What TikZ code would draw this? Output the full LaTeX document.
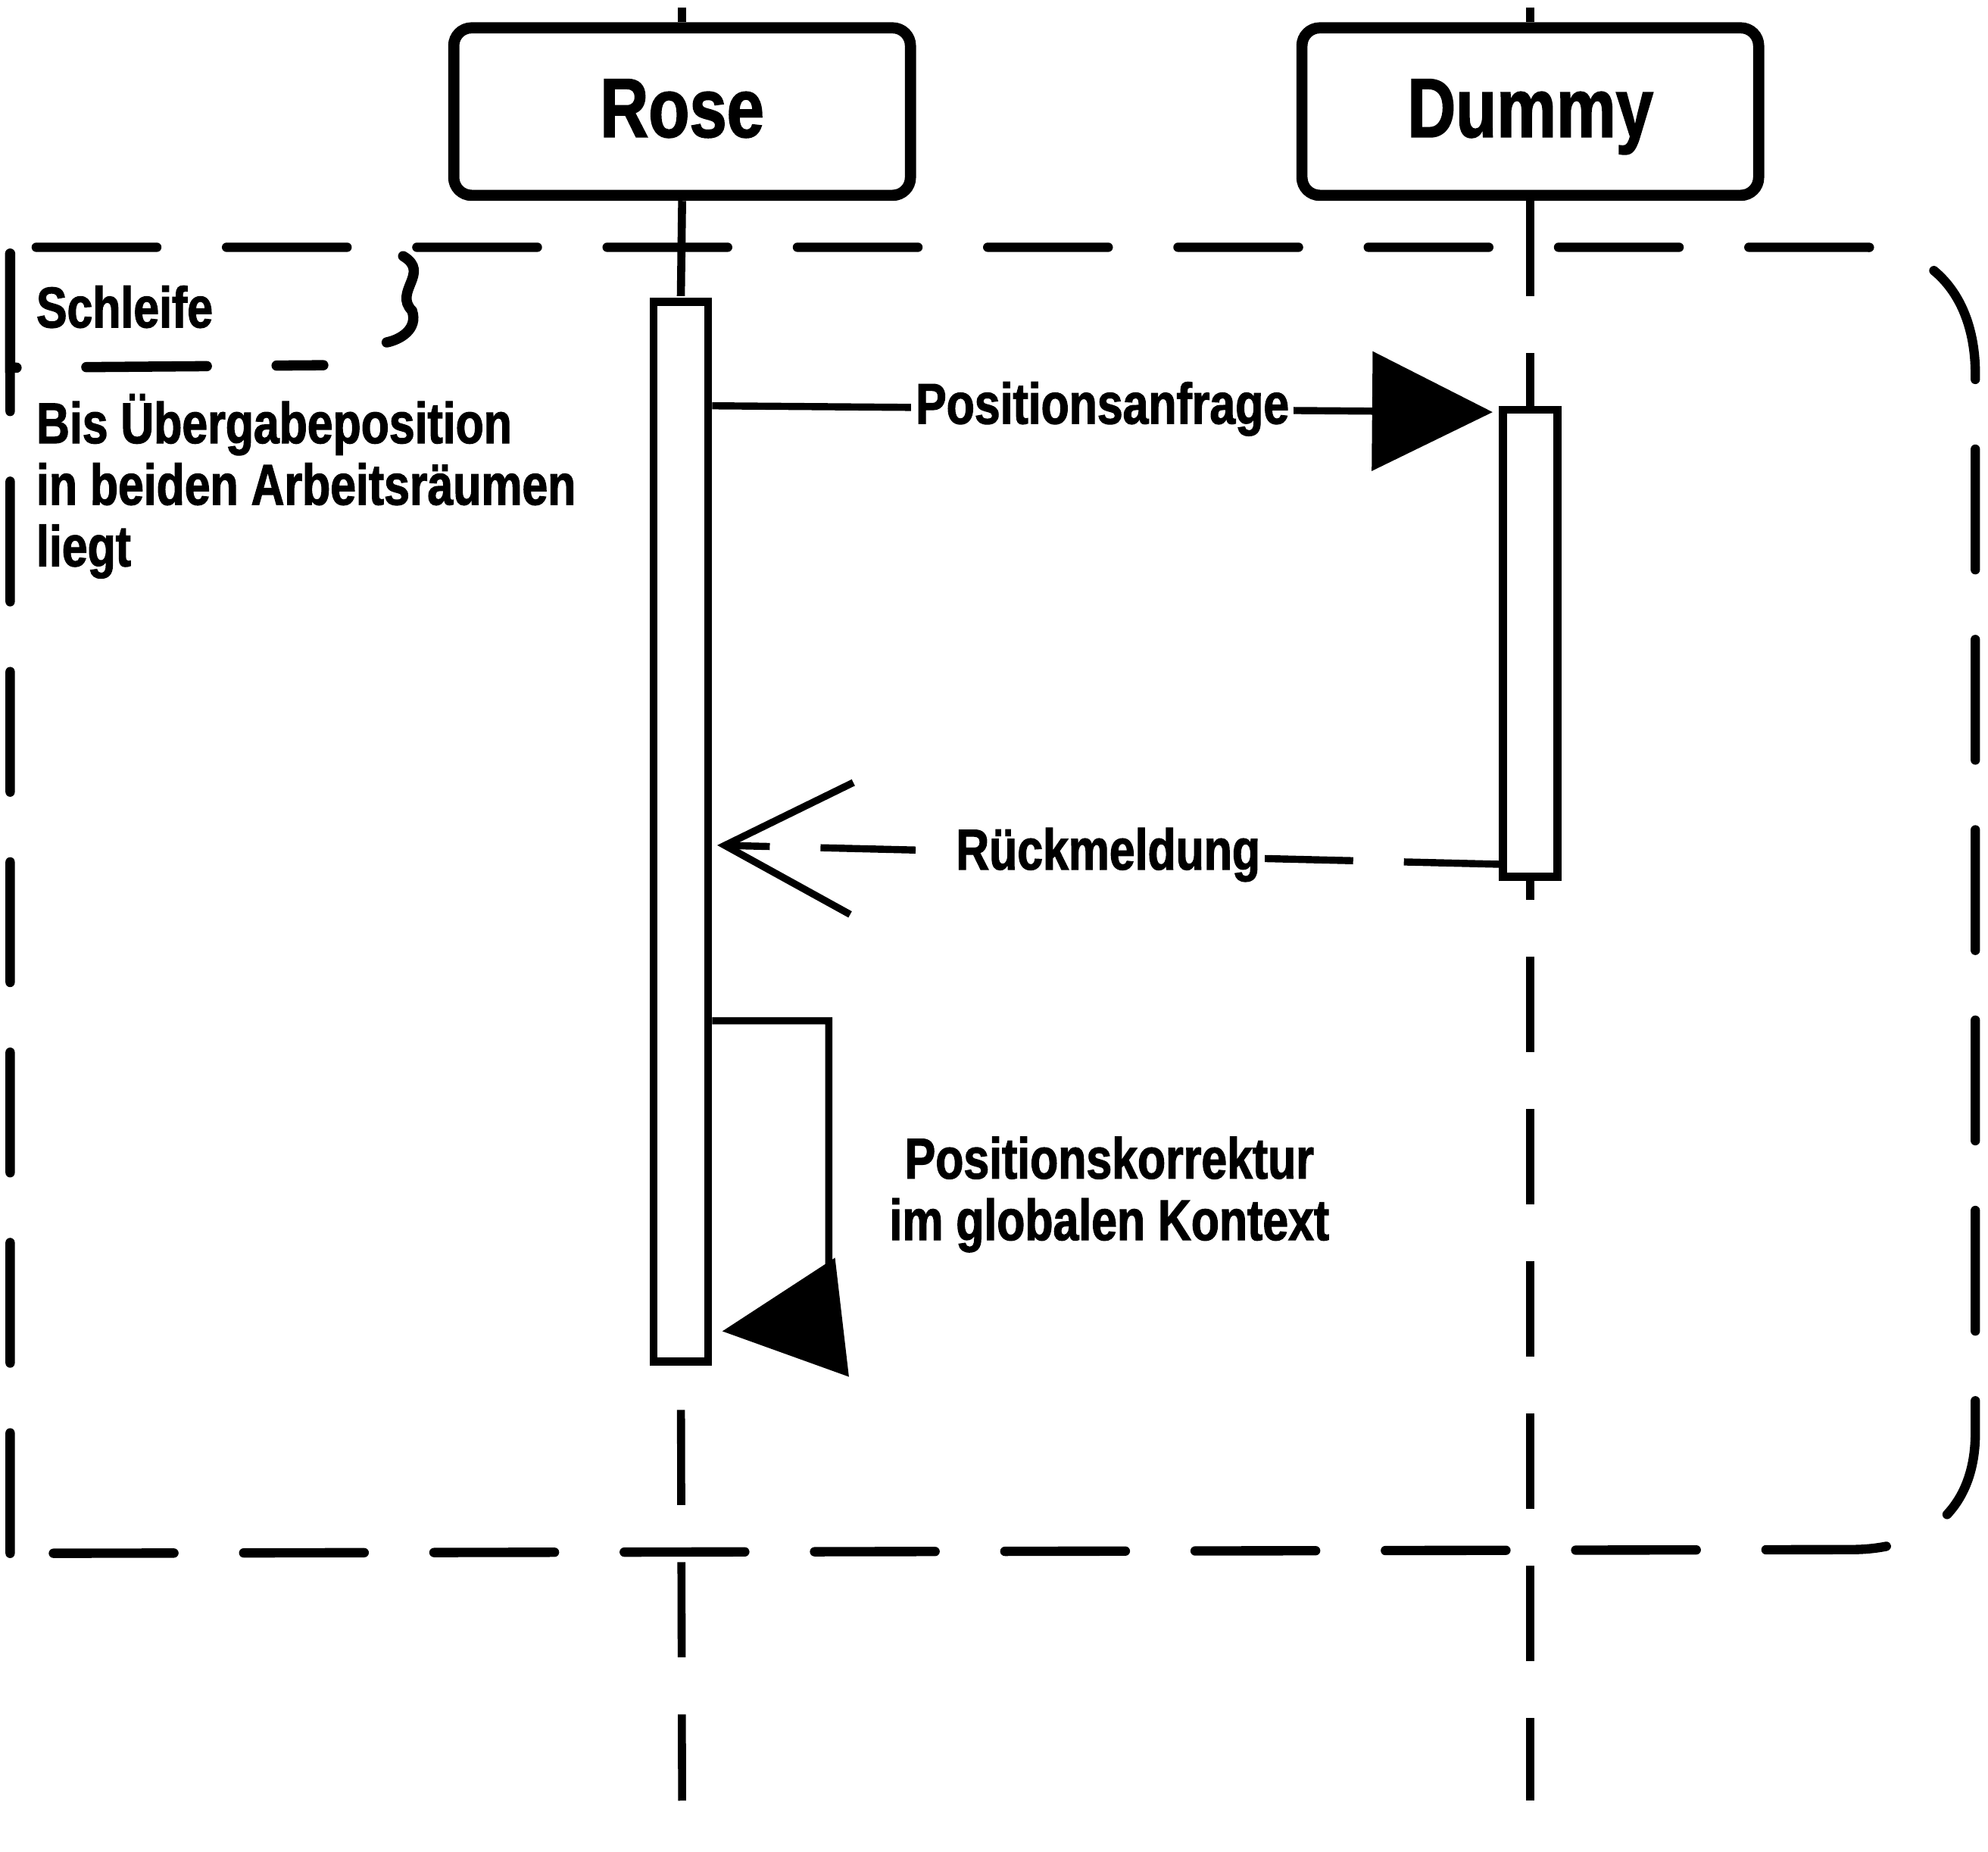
\documentclass[tikz,border=0pt]{standalone}
\usepackage{fontspec}
\usepackage{tikz}
\usetikzlibrary{arrows.meta,calc}
\newfontfamily\sketchfont{Liberation Sans}[FakeStretch=0.8, BoldFeatures={FakeBold=1.6}]

\tikzset{
    actorbox/.style={draw, line width=2.5pt, rounded corners=4pt, minimum width=3.6cm,
        minimum height=1.32cm, text height=0.58cm, text depth=0.18cm,
        font=\sketchfont\bfseries\fontsize{18.8}{21}\selectfont},
    actbar/.style={draw, fill=white, line width=1.8pt, minimum width=0.43cm, inner sep=0pt},
    lifeline/.style={line width=1.8pt, dash pattern=on 0.75cm off 0.45cm},
    loopframe/.style={line width=2.1pt, line cap=round, dash pattern=on 0.95cm off 0.55cm},
    syncmsg/.style={line width=1.6pt, -{Triangle[length=0.95cm, width=0.93cm]}},
    replymsg/.style={line width=1.6pt, dash pattern=on 0.75cm off 0.4cm,
        -{Straight Barb[length=1cm, width=1.04cm, line width=1.6pt]}},
    msglabel/.style={fill=white, inner sep=1pt, font=\sketchfont\bfseries\fontsize{12.9}{13.8}\selectfont},
    note/.style={inner sep=0pt, font=\sketchfont\bfseries\fontsize{12.9}{13.8}\selectfont}
}

\begin{document}
\begin{tikzpicture}[x=0.01cm, y=-0.01cm]

    \useasboundingbox (0,0) rectangle (1568,1460);

    %teilnehmer
    \node[actorbox] (rose) at (538,88) {Rose};
    \node[actorbox] (dummy) at (1207,88) {Dummy};

    %aktivierungen
    \node[actbar, minimum height=8.35cm, anchor=north] (rbar) at (537,235) {};
    \node[actbar, minimum height=3.68cm, anchor=north] (dbar) at (1207,320) {};

    %lebenslinien
    \draw[line width=1.8pt] (538,6) -- (rose.north);
    \draw[line width=1.8pt] (1207,6) -- (dummy.north);
    \draw[lifeline] (rose.south) -- (rbar.north);
    \draw[lifeline] (dummy.south) -- (dbar.north);
    \draw[lifeline, dash phase=0.85cm] (rbar.south) -- (538,1420);
    \draw[lifeline, dash phase=0.6cm] (dbar.south) -- (1207,1420);
    \node[actbar, minimum height=8.35cm, anchor=north] at (537,235) {};
    \node[actbar, minimum height=3.68cm, anchor=north] at (1207,320) {};

    %schleife
    \draw[loopframe] (8,1225) -- (8,195) -- (1470,195)
        .. controls (1525,195) and (1558,235) .. (1558,295) -- (1558,1130)
        .. controls (1558,1190) and (1520,1222) .. (1460,1222) -- cycle;
    \draw[line width=2.3pt, line cap=round, dash pattern=on 0.95cm off 0.55cm]
        (8,200) -- (8,290) -- (255,288);
    \draw[line width=2.3pt, line cap=round] (318,202) .. controls (340,215) and (310,230) .. (325,245)
        .. controls (330,260) and (315,268) .. (305,270);
    \node[note, anchor=west] (schleife) at (28,242) {Schleife};
    \node[note, anchor=north west, align=left] (bedingung) at (28,310)
        {Bis Übergabeposition\\in beiden Arbeitsräumen\\liegt};

    %nachrichten
    \draw[syncmsg] (rbar.east |- dbar.north) -- ($(dbar.north west)+(-5,5)$)
        node[msglabel, midway] {Positionsanfrage};
    \draw[replymsg] ($(dbar.south west)+(0,-13)$) -- ($(rbar.east |- dbar.south)+(4,-28)$)
        node[msglabel, midway] {Rückmeldung};
    \draw[syncmsg] ($(rbar.north east)+(0,570)$) -| ++(92,235)
        -- ($(rbar.south east)+(8,-27)$);
    \node[note, align=center] (korrektur) at (875,942)
        {Positionskorrektur\\im globalen Kontext};

\end{tikzpicture}
\end{document}
